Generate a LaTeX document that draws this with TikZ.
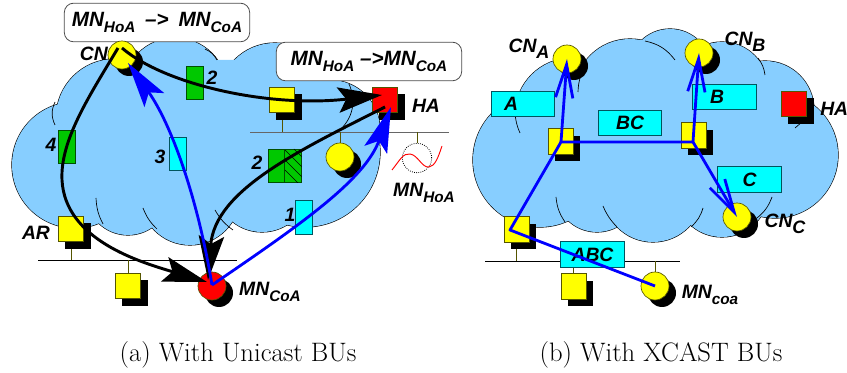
\documentclass[tikz,border=0pt]{standalone}
\usepackage{fontspec}
\setsansfont{Liberation Sans}
\usetikzlibrary{arrows.meta}
\definecolor{cloudblue}{RGB}{135,206,255}
\definecolor{boxgreen}{RGB}{0,200,0}
\definecolor{edgeteal}{RGB}{0,85,95}
\definecolor{edgeolive}{RGB}{85,85,0}
\definecolor{pcyan}{RGB}{0,255,255}
\definecolor{pyellow}{RGB}{255,255,0}
\definecolor{pred}{RGB}{255,0,0}
\definecolor{pblue}{RGB}{0,0,255}
\newcommand{\lowtxt}[1]{\raisebox{-0.32em}{\fontsize{11.5}{11.5}\selectfont #1}}
\newcommand{\lowbig}[1]{\raisebox{-0.3em}{\fontsize{13.5}{13.5}\selectfont #1}}
\newcommand{\shsq}[4]{% name, cx, cy, colour
  \fill[black] (#2+7,#3+7) +(-12.75,-12.75) rectangle +(12.75,12.75);
  \node[sq,fill=#4] (#1) at (#2,#3) {};}
\newcommand{\shci}[4]{%
  \fill[black] (#2+7,#3+7) circle[radius=10.5pt];
  \node[ci,fill=#4] (#1) at (#2,#3) {};}
\tikzset{
  x=0.75pt,y=-0.75pt,
  sq/.style={draw=edgeolive,line width=0.5pt,minimum size=19pt,inner sep=0pt},
  ci/.style={circle,draw=edgeolive,line width=0.5pt,minimum size=21pt,inner sep=0pt},
  vbox/.style={draw=edgeteal,line width=0.5pt,fill=pcyan,minimum width=12.5pt,minimum height=25pt,inner sep=0pt},
  hbox/.style={draw=edgeteal,line width=0.7pt,fill=pcyan,minimum width=47.5pt,minimum height=19pt,inner sep=0pt},
  gbox/.style={draw=black!60!boxgreen,line width=0.5pt,fill=boxgreen,minimum width=12.5pt,minimum height=25pt,inner sep=0pt},
  lbl/.style={inner sep=0pt,font=\sffamily\bfseries\itshape\fontsize{14.5}{14.5}\selectfont},
  callout/.style={draw=black!70,line width=0.6pt,fill=white,rounded corners=7pt,inner sep=0pt,font=\sffamily\bfseries\itshape\fontsize{15.5}{15.5}\selectfont},
  captext/.style={inner sep=0pt,font=\fontsize{20}{20}\selectfont},
  wire/.style={line width=0.6pt,draw=black},
  stub/.style={line width=0.6pt,draw=edgeolive},
  inner/.style={line width=0.5pt,draw=black},
  blk/.style={line width=2.2pt,draw=black,-{Stealth[length=33pt,width=19pt,inset=6pt]}},
  blu/.style={line width=2.1pt,draw=pblue,-{Stealth[length=34pt,width=18pt,inset=7pt]}},
  bline/.style={line width=2.1pt,draw=pblue,line join=round},
  barb/.style={line width=2.1pt,draw=pblue,-{Straight Barb[length=25pt,width=13pt,line width=2.1pt]}},
}
\begin{document}
\begin{tikzpicture}
\useasboundingbox (0,0) rectangle (847,373);
% left cloud
\foreach \cx/\cy/\cr in {75/165/63,115/118/59,175/90/52,275/100/57,330/130/50,305/152/75,262/185/47,190/195/50,128/193/42}{
  \draw[line width=0.9pt,draw=black] (\cx,\cy) circle[radius=\cr*0.75pt];}
\foreach \cx/\cy/\cr in {75/165/63,115/118/59,175/90/52,275/100/57,330/130/50,305/152/75,262/185/47,190/195/50,128/193/42}{
  \fill[cloudblue] (\cx,\cy) circle[radius=\cr*0.75pt];}
\fill[cloudblue] (60,120)--(135,70)--(217,60)--(236,60)--(300,60)--(340,120)--(340,190)--(100,200)--cycle;
\draw[inner] (55,102) to[bend right=25] (55,125);
\draw[inner] (96,198) to[bend right=12] (103,224);
\draw[inner] (143,208) to[bend right=12] (157,229);
\draw[inner] (215,210) to[bend right=12] (233,230);
\draw[inner] (205,49) to[bend left=18] (217,60);
\draw[inner] (349,84) to[bend left=35] (340,130);
% right cloud
\foreach \cx/\cy/\cr in {540/160/67,572/115/57,630/95/56,670/70/41,722/88/46,765/110/49,775/155/63,722/190/47,653/192/50,597/190/42}{
  \draw[line width=0.9pt,draw=black] (\cx,\cy) circle[radius=\cr*0.75pt];}
\foreach \cx/\cy/\cr in {540/160/67,572/115/57,630/95/56,670/70/41,722/88/46,765/110/49,775/155/63,722/190/47,653/192/50,597/190/42}{
  \fill[cloudblue] (\cx,\cy) circle[radius=\cr*0.75pt];}
\fill[cloudblue] (530,100)--(600,70)--(700,60)--(770,80)--(790,120)--(790,190)--(600,200)--(520,190)--cycle;
\draw[inner] (520,133) to[bend left=10] (515,112);
\draw[inner] (578,92) to[bend left=6] (580,78);
\draw[inner] (645,41) to[bend left=20] (675,60);
\draw[inner] (765,75) to[bend right=14] (758,58);
\draw[inner] (795,128) -- (802,122);
\draw[inner] (556,197) to[bend right=14] (565,222);
\draw[inner] (603,206) to[bend right=10] (617,227);
\draw[inner] (703,208) to[bend left=15] (691,227);
\draw[inner] (772,197) to[bend left=15] (757,218);
% callouts
\node[callout,minimum width=139pt,minimum height=29pt] (callA) at (157,22.5) {MN\lowtxt{HoA}\hspace{3pt} -->\hspace{3pt} MN\lowtxt{CoA}};
\node[callout,minimum width=139pt,minimum height=29pt] (callB) at (369,61.5) {MN\lowtxt{HoA} -->MN\lowtxt{CoA}};
% left LANs
\coordinate (lanAl) at (250,132); \coordinate (lanAr) at (449,132);
\draw[wire,draw=black!60] (lanAl) -- (lanAr);
\coordinate (lanBl) at (38,260); \coordinate (lanBr) at (237,260);
\draw[wire] (lanBl) -- (lanBr);
\draw[stub] (282,113) -- (282,132);
\draw[stub] (340,132) -- (340,143);
\draw[stub] (417,132) -- (417,143);
\draw[stub] (71,241) -- (71,260);
\draw[stub] (128,260) -- (128,273);
% left boxes
\node[vbox] (b1) at (303.5,217.5) {};
\node[vbox] (b3) at (177.5,154) {};
\node[gbox] (g2) at (194.5,83) {};
\node[gbox] (g4) at (66.5,147) {};
\node[gbox,minimum height=25pt] (g2a) at (276.5,166) {};
\node[gbox,minimum height=25pt] (g2b) at (293,166) {};
\begin{scope}
\clip (g2b.south west) rectangle (g2b.north east);
\draw[line width=0.5pt] (285,150)--(303,168) (285,160)--(303,178) (285,170)--(300,185) (294,149)--(303,158);
\end{scope}
\shsq{sqA}{282}{100}{pyellow}
\shsq{ha}{385}{100}{pred}
\shci{ciA}{340}{157}{pyellow}
\shci{cn}{122}{55}{pyellow}
\shsq{ar}{71}{229}{pyellow}
\shsq{sqB}{128}{286}{pyellow}
\shci{mn}{212}{286}{pred}
% dotted circle & sine
\node[circle,draw=black,densely dotted,line width=0.6pt,minimum size=22pt,inner sep=0pt] (dot) at (417,158) {};
\coordinate (sA) at (392,170); \coordinate (sB) at (442,146);
\draw[pred,line width=0.7pt] (sA) .. controls (400,160) and (403,153) .. (410,154) .. controls (418,155) and (422,168) .. (429,167) .. controls (435,166) and (438,158) .. (sB);
% left arrows
\coordinate (cnA) at (122,48); \coordinate (cnB) at (118,48); \coordinate (haT) at (382,95); \coordinate (haS) at (385,107);
\coordinate (mnA) at (207,282); \coordinate (mnB) at (208,280); \coordinate (mnS) at (212,285);
\coordinate (cnT) at (128,63); \coordinate (haB) at (391,107);
\coordinate (cv) at (62,180);
\draw[blk] (cnA) .. controls (165,85) and (270,108) .. (haT);
\draw[blk] (cnB) .. controls (90,95) and (60,140) .. (cv) .. controls (65,240) and (140,262) .. (mnA);
\draw[blk] (haS) .. controls (300,150) and (215,190) .. (mnB);
\draw[blu] (mnS) .. controls (198,200) and (172,125) .. (cnT);
\draw[blu] (mnS) .. controls (300,225) and (365,180) .. (haB);
% left labels
\node[lbl,anchor=east] (lcn) at (108,54) {CN};
\node[lbl] (l2t) at (212,78) {2};
\node[lbl] (l4) at (51,145) {4};
\node[lbl] (l3) at (160,157) {3};
\node[lbl] (l2) at (257,163) {2};
\node[lbl] (l1) at (290,215) {1};
\node[lbl] (lha) at (426,106) {HA};
\node[lbl] (lmh) at (424,193) {MN\lowtxt{HoA}};
\node[lbl] (lar) at (36,233) {AR};
\node[lbl] (lmc) at (270,292) {MN\lowtxt{CoA}};
% right LAN
\coordinate (lanCl) at (485,261); \coordinate (lanCr) at (680,261);
\draw[wire] (lanCl) -- (lanCr);
\draw[stub] (516,242) -- (516,261);
\draw[stub] (573,261) -- (573,274);
\draw[stub] (655,261) -- (655,272);
% right boxes
\node[hbox] (ba) at (523,104) {};
\node[hbox] (bb) at (724.5,97) {};
\node[hbox] (bbc) at (630,123) {};
\node[hbox] (bc) at (749.5,179.5) {};
\node[hbox] (babc) at (592.5,254.5) {};
\shsq{r1}{560.5}{141.5}{pyellow}
\shsq{r2}{693.5}{135.5}{pyellow}
\shsq{hb}{794}{104}{pred}
\shci{ca}{567}{59}{pyellow}
\shci{cb}{699}{53}{pyellow}
\shci{cc}{737}{217}{pyellow}
\shsq{r3}{516.5}{229.5}{pyellow}
\shsq{r4}{573.5}{286.5}{pyellow}
\shci{mc}{655}{286}{pyellow}
% right labels under arrows
\node[lbl] at (ba) [xshift=-9pt] {A};
\node[lbl] at (bb) [xshift=-5.5pt] {B};
\node[lbl] at (bbc) {BC};
\node[lbl] at (bc) {C};
\node[lbl] at (babc) {ABC};
% right arrows
\coordinate (j0) at (510,230);
\coordinate (j1) at (561,142);
\coordinate (j2) at (693,142);
\draw[bline] (mc.center) -- (j0) -- (j1) -- (j2);
\draw[barb] (j1) -- (ca.center);
\draw[barb] (j2) -- (cb.center);
\draw[barb] (j2) -- (cc.center);
% right labels
\node[lbl] (lca) at (529,49) {CN\lowbig{A}};
\node[lbl] (lcb) at (745,42) {CN\lowbig{B}};
\node[lbl] (lcc) at (785,224) {CN\lowbig{C}};
\node[lbl,anchor=west] (lhb) at (820,109) {HA};
\node[lbl] (lmcoa) at (710,295) {MN\lowtxt{coa}};
% captions
\node[captext] (capa) at (238,355) {(a) With Unicast BUs};
\node[captext] (capb) at (661,355) {(b) With XCAST BUs};
\end{tikzpicture}
\end{document}
